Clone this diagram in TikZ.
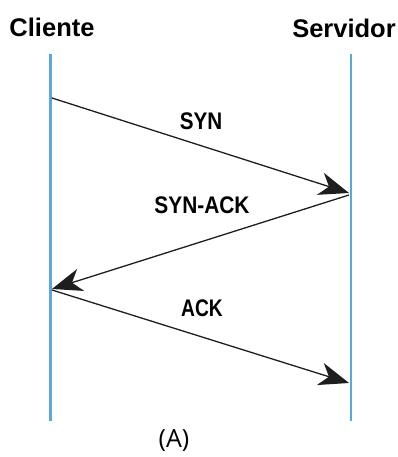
\documentclass[tikz,border=0pt]{standalone}
\usepackage{fontspec}
\usepackage{graphicx}
\setmainfont{Liberation Sans}
\newfontfamily\capfont{Open Sans}
\usetikzlibrary{arrows.meta}
\definecolor{lifeblue}{RGB}{88,168,222}
\definecolor{msggray}{RGB}{30,30,30}
\tikzset{
  partlabel/.style={font=\bfseries\fontsize{25.5}{28}\selectfont, inner sep=0pt},
  msglabel/.style={font=\bfseries\fontsize{24}{28}\selectfont, inner sep=0pt},
  lifeline/.style={draw=lifeblue, line width=2.4pt},
  msgline/.style={draw=msggray, line width=1.3pt, -{Stealth[length=30pt,width=23pt,inset=9pt]}},
}
\begin{document}
\begin{tikzpicture}[x=1pt,y=-1pt]
\useasboundingbox (0,0) rectangle (398,457);
\node[partlabel] (cli) at (52,27) {Cliente};
\node[partlabel] (srv) at (344,28) {Servidor};
\coordinate (c1) at (50.5,54);
\coordinate (c2) at (50.5,421);
\coordinate (s1) at (351,54);
\coordinate (s2) at (351,421);
\draw[lifeline] (c1) -- (c2);
\draw[lifeline] (s1) -- (s2);
\coordinate (a1) at (52,98);
\coordinate (a2) at (349,193);
\coordinate (b1) at (349,195);
\coordinate (b2) at (52,289);
\coordinate (d1) at (52,290);
\coordinate (d2) at (349,383);
\draw[msgline] (a1) -- (a2);
\draw[msgline] (b1) -- (b2);
\draw[msgline] (d1) -- (d2);
\node[msglabel] (syn) at (201,121) {\scalebox{0.86}[1]{SYN}};
\node[msglabel] (synack) at (202,205) {\scalebox{0.87}[1]{SYN-ACK}};
\node[msglabel] (ack) at (202,308) {\scalebox{0.8}[1]{ACK}};
\node[font=\capfont\fontsize{25}{29}\selectfont, inner sep=0pt] (cap) at (174,441) {(A)};
\end{tikzpicture}
\end{document}
